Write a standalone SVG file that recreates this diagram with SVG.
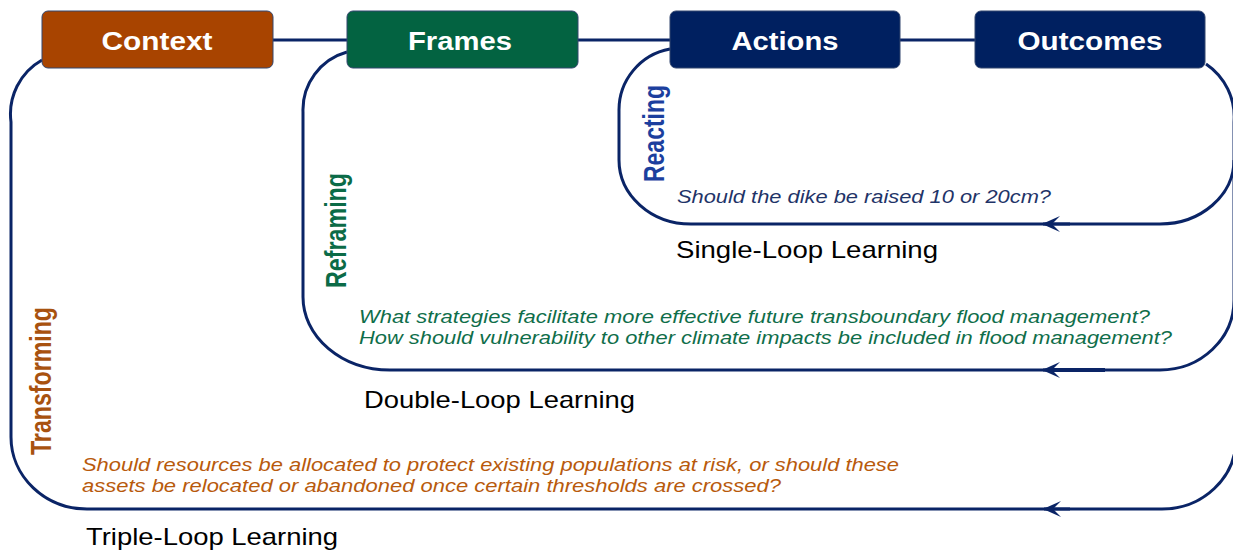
<svg xmlns="http://www.w3.org/2000/svg" width="1233" height="550" viewBox="0 0 1233 550">
  <style>
    .box { stroke: #33466e; stroke-width: 1; }
    .box-label { font-family: "Liberation Sans", Arial, sans-serif; font-weight: bold; font-size: 25px; fill: #ffffff; text-anchor: middle; }
    .loop { fill: none; stroke: #0a2466; stroke-width: 3; }
    .link { fill: none; stroke: #0a2466; stroke-width: 3; }
    .mode { font-family: "Liberation Sans", Arial, sans-serif; font-weight: bold; font-size: 23px; }
    .question { font-family: "Liberation Sans", Arial, sans-serif; font-style: italic; font-size: 18px; }
    .loop-name { font-family: "Liberation Sans", Arial, sans-serif; font-size: 24px; fill: #000000; }
  </style>
  <defs>
    <marker id="arrow" viewBox="0 0 18 16" refX="17" refY="8" markerWidth="18" markerHeight="16" markerUnits="userSpaceOnUse" orient="auto">
      <path d="M18,8 L0,0 L8,8 L0,16 Z" fill="#0a2466"/>
    </marker>
  </defs>

  <rect width="1233" height="550" fill="#ffffff"/>

  <!-- connectors: header links and the three learning loops -->
  <g id="connectors">
    <line class="link" x1="273" y1="40" x2="347" y2="40"/>
    <line class="link" x1="578" y1="40" x2="670" y2="40"/>
    <line class="link" x1="900" y1="40" x2="975" y2="40"/>

    <!-- single loop: Actions -> Outcomes -> back -->
    <path class="loop" d="M670,49 A62,62 0 0 0 619,111 L619,160 A72,64 0 0 0 691,224 L1160,224 A74,64 0 0 0 1234,160 L1234,122 A64,64 0 0 0 1206,64"/>
    <!-- double loop: Frames -> Outcomes -> back -->
    <path class="loop" d="M347,52 A60,60 0 0 0 303,112 L303,297 A87,73 0 0 0 390,370 L1160,370 A74,70 0 0 0 1234,300 L1234,160"/>
    <line x1="1050" y1="370" x2="1105" y2="370" stroke="#0a2466" stroke-width="4"/>
    <!-- triple loop: Context -> Outcomes -> back (right side runs just past the edge) -->
    <path class="loop" d="M42,60 A62,62 0 0 0 11,122 L11,437 A76,72 0 0 0 87,509 L1162,509 A74,70 0 0 0 1236,439 L1236,360"/>

    <!-- direction arrows on the return paths -->
    <path class="loop" d="M1070,224 L1043,224" marker-end="url(#arrow)"/>
    <path class="loop" d="M1070,370 L1043,370" marker-end="url(#arrow)"/>
    <path class="loop" d="M1070,509 L1044,509" marker-end="url(#arrow)"/>
  </g>

  <g id="context">
    <rect class="box" x="42" y="11" width="231" height="57" rx="6" fill="#a84400"/>
    <text class="box-label" x="157" y="50" textLength="111" lengthAdjust="spacingAndGlyphs">Context</text>
  </g>
  <g id="frames">
    <rect class="box" x="347" y="11" width="231" height="57" rx="6" fill="#036341"/>
    <text class="box-label" x="460" y="50" textLength="104" lengthAdjust="spacingAndGlyphs">Frames</text>
  </g>
  <g id="actions">
    <rect class="box" x="670" y="11" width="230" height="57" rx="6" fill="#002060"/>
    <text class="box-label" x="785" y="50" textLength="107" lengthAdjust="spacingAndGlyphs">Actions</text>
  </g>
  <g id="outcomes">
    <rect class="box" x="975" y="11" width="230" height="57" rx="6" fill="#002060"/>
    <text class="box-label" x="1090" y="50" textLength="145" lengthAdjust="spacingAndGlyphs">Outcomes</text>
  </g>

  <g id="single-loop">
    <text class="mode" fill="#1c3f9e" transform="translate(664,182) scale(1.3,1) rotate(-90)" textLength="97" lengthAdjust="spacingAndGlyphs">Reacting</text>
    <text class="question" fill="#1f3468" x="677" y="203" textLength="374" lengthAdjust="spacingAndGlyphs">Should the dike be raised 10 or 20cm?</text>
    <text class="loop-name" x="676" y="258" textLength="262" lengthAdjust="spacingAndGlyphs">Single-Loop Learning</text>
  </g>

  <g id="double-loop">
    <text class="mode" fill="#0b6b47" transform="translate(346,288) scale(1.3,1) rotate(-90)" textLength="115" lengthAdjust="spacingAndGlyphs">Reframing</text>
    <text class="question" fill="#0f6e4a" x="359" y="323" textLength="791" lengthAdjust="spacingAndGlyphs">What strategies facilitate more effective future transboundary flood management?</text>
    <text class="question" fill="#0f6e4a" x="359" y="344" textLength="813" lengthAdjust="spacingAndGlyphs">How should vulnerability to other climate impacts be included in flood management?</text>
    <text class="loop-name" x="364" y="408" textLength="271" lengthAdjust="spacingAndGlyphs">Double-Loop Learning</text>
  </g>

  <g id="triple-loop">
    <text class="mode" fill="#a8520f" transform="translate(51,455) scale(1.3,1) rotate(-90)" textLength="148" lengthAdjust="spacingAndGlyphs">Transforming</text>
    <text class="question" fill="#b85a0c" x="82" y="471" textLength="817" lengthAdjust="spacingAndGlyphs">Should resources be allocated to protect existing populations at risk, or should these</text>
    <text class="question" fill="#b85a0c" x="82" y="492" textLength="699" lengthAdjust="spacingAndGlyphs">assets be relocated or abandoned once certain thresholds are crossed?</text>
    <text class="loop-name" x="86" y="545" textLength="252" lengthAdjust="spacingAndGlyphs">Triple-Loop Learning</text>
  </g>
</svg>
